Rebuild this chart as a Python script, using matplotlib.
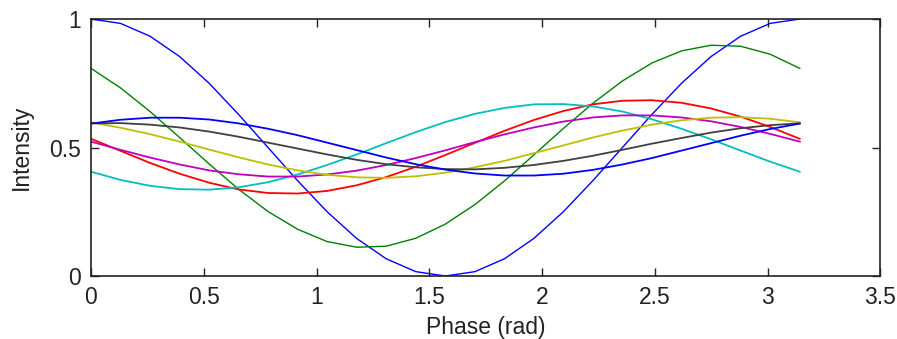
import matplotlib
matplotlib.use('Agg')
import matplotlib.pyplot as plt

plt.rcParams['font.family'] = ['Liberation Sans', 'DejaVu Sans']

# Phase samples (rad)
phase = [0.0, 0.131, 0.262, 0.393, 0.524, 0.654, 0.785, 0.916, 1.047, 1.178,
         1.309, 1.44, 1.571, 1.702, 1.833, 1.963, 2.094, 2.225, 2.356, 2.487,
         2.618, 2.749, 2.88, 3.011, 3.142]

# Intensity curves
blue1 = [1.0, 0.983, 0.933, 0.854, 0.75, 0.629, 0.5, 0.371, 0.25, 0.146,
         0.067, 0.017, 0.0, 0.017, 0.067, 0.146, 0.25, 0.371, 0.5, 0.629,
         0.75, 0.854, 0.933, 0.983, 1.0]
green = [0.808, 0.732, 0.64, 0.539, 0.436, 0.338, 0.251, 0.182, 0.134, 0.112,
         0.116, 0.147, 0.202, 0.278, 0.37, 0.471, 0.574, 0.672, 0.759, 0.829,
         0.876, 0.898, 0.894, 0.863, 0.808]
red = [0.534, 0.487, 0.44, 0.398, 0.363, 0.337, 0.323, 0.321, 0.331, 0.353,
       0.385, 0.425, 0.471, 0.518, 0.565, 0.607, 0.642, 0.668, 0.682, 0.684,
       0.674, 0.652, 0.62, 0.58, 0.534]
cyan = [0.406, 0.374, 0.351, 0.338, 0.336, 0.345, 0.365, 0.395, 0.432, 0.473,
        0.517, 0.56, 0.599, 0.631, 0.654, 0.668, 0.669, 0.66, 0.64, 0.61,
        0.573, 0.532, 0.488, 0.445, 0.406]
magenta = [0.523, 0.491, 0.461, 0.434, 0.411, 0.396, 0.387, 0.387, 0.395, 0.41,
           0.432, 0.459, 0.489, 0.521, 0.551, 0.578, 0.601, 0.617, 0.625, 0.625,
           0.617, 0.602, 0.58, 0.553, 0.523]
yellow = [0.598, 0.577, 0.552, 0.523, 0.492, 0.462, 0.434, 0.411, 0.394, 0.384,
          0.382, 0.388, 0.402, 0.423, 0.448, 0.478, 0.508, 0.539, 0.566, 0.589,
          0.606, 0.616, 0.618, 0.612, 0.598]
gray = [0.594, 0.595, 0.589, 0.578, 0.562, 0.542, 0.519, 0.496, 0.473, 0.452,
        0.435, 0.423, 0.416, 0.415, 0.421, 0.432, 0.448, 0.468, 0.491, 0.515,
        0.537, 0.558, 0.575, 0.587, 0.594]
blue2 = [0.593, 0.608, 0.616, 0.616, 0.609, 0.594, 0.573, 0.548, 0.519, 0.49,
         0.461, 0.435, 0.414, 0.399, 0.391, 0.391, 0.398, 0.413, 0.434, 0.459,
         0.488, 0.517, 0.546, 0.572, 0.593]

curves = [blue1, green, red, cyan, magenta, yellow, gray, blue2]
colors = ['#0000ff', '#008000', '#ff0000', '#00bfbf', '#bf00bf', '#bfbf00', '#404040', '#0000ff']
widths = [1.0, 1.0, 1.3, 1.3, 1.3, 1.3, 1.3, 1.3]

fig = plt.figure(figsize=(8.97, 3.39), dpi=100)
ax = fig.add_axes([0.1014, 0.1858, 0.8802, 0.7581])

for y, c, w in zip(curves, colors, widths):
    ax.plot(phase, y, color=c, linewidth=w)

ax.set_xlim(0, 3.5)
ax.set_ylim(0, 1)
ax.set_xticks([0, 0.5, 1, 1.5, 2, 2.5, 3, 3.5])
ax.set_xticklabels(['0', '0.5', '1', '1.5', '2', '2.5', '3', '3.5'])
ax.set_yticks([0, 0.5, 1])
ax.set_yticklabels(['0', '0.5', '1'])
ax.tick_params(direction='in', length=6, width=1, top=True, right=True,
               labelsize=16.5, colors='#222222', pad=7)
for s in ax.spines.values():
    s.set_linewidth(1.2)
    s.set_color('#222222')

ax.set_xlabel('Phase (rad)', fontsize=16.5, labelpad=5, color='#222222')
ax.set_ylabel('Intensity', fontsize=16.5, labelpad=12, color='#222222')

fig.savefig('out.png', dpi=100)
